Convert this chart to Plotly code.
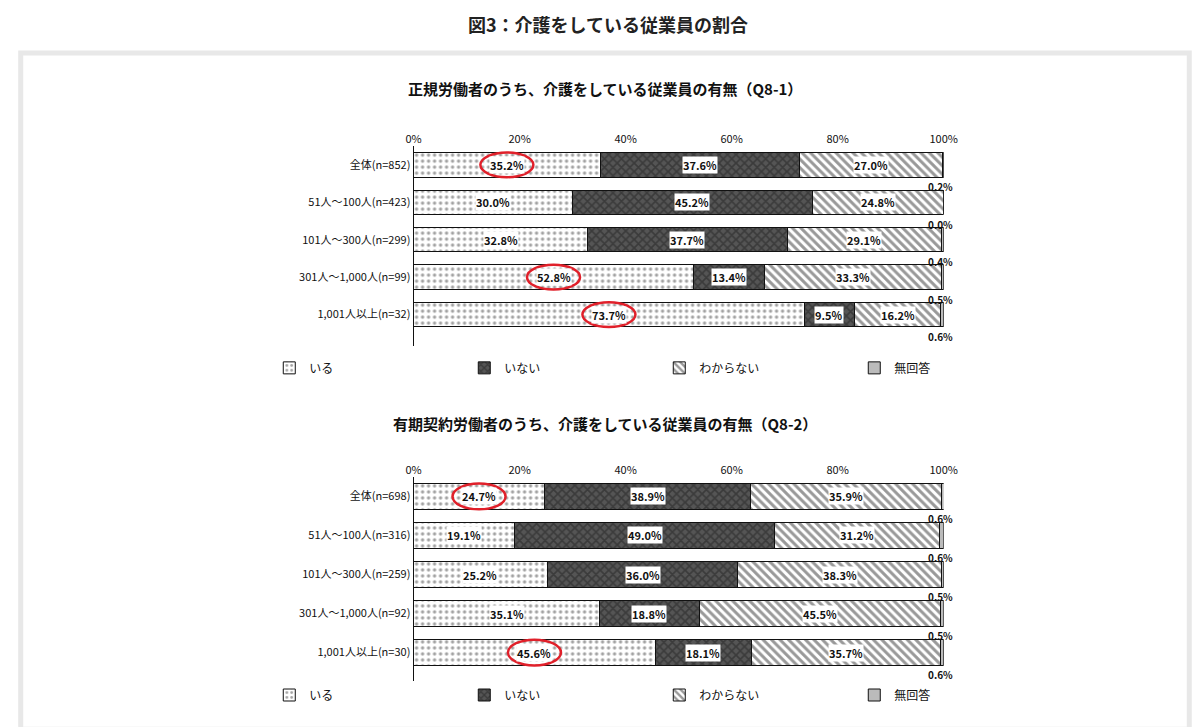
import plotly.graph_objects as go

cats = ["全体(n=852)", "51人～100人(n=423)", "101人～300人(n=299)", "301人～1,000人(n=99)", "1,001人以上(n=32)"]
cats2 = ["全体(n=698)", "51人～100人(n=316)", "101人～300人(n=259)", "301人～1,000人(n=92)", "1,001人以上(n=30)"]
names = ["いる", "いない", "わからない", "無回答"]
top = [[35.2, 30.0, 32.8, 52.8, 73.7],
       [37.6, 45.2, 37.7, 13.4, 9.5],
       [27.0, 24.8, 29.1, 33.3, 16.2],
       [0.2, 0.0, 0.4, 0.5, 0.6]]
bot = [[24.7, 19.1, 25.2, 35.1, 45.6],
       [38.9, 49.0, 36.0, 18.8, 18.1],
       [35.9, 31.2, 38.3, 45.5, 35.7],
       [0.6, 0.6, 0.5, 0.5, 0.6]]
circled_top = [0, 3, 4]
circled_bot = [0, 4]

colors = ["white", "#555555", "white", "#bbbbbb"]
pats = [".", "x", "\\", ""]
pfg = ["#444", "#222", "#333", "#bbb"]
FONT = "Noto Sans CJK JP"

fig = go.Figure()
for ax, (data, cl, leg) in enumerate([(top, cats, "legend"), (bot, cats2, "legend2")]):
    xa = "x" if ax == 0 else "x2"
    ya = "y" if ax == 0 else "y2"
    for i, n in enumerate(names):
        fig.add_trace(go.Bar(
            y=cl, x=data[i], name=n, orientation="h", xaxis=xa, yaxis=ya, legend=leg,
            marker=dict(color=colors[i], line=dict(color="#111", width=1),
                        pattern=dict(shape=pats[i], fgcolor=pfg[i], size=6, solidity=0.25 if i == 0 else 0.5)),
            width=0.65, hoverinfo="skip"))
    for r in range(5):
        cum = 0
        for i in range(3):
            v = data[i][r]
            fig.add_annotation(x=cum + v / 2, y=cl[r], xref=xa, yref=ya, text=f"<b>{v:.1f}%</b>",
                               showarrow=False, bgcolor="white", borderpad=0,
                               font=dict(size=11, color="#111", family=FONT))
            cum += v
        fig.add_annotation(x=100, y=cl[r], xref=xa, yref=ya, text=f"<b>{data[3][r]:.1f}%</b>",
                           showarrow=False, yshift=-22, xanchor="left", xshift=-18,
                           font=dict(size=10, color="#111", family=FONT))
    for r in (circled_top if ax == 0 else circled_bot):
        c = data[0][r] / 2
        yy = 4 - r
        fig.add_shape(type="circle", xref=xa, yref=ya, x0=c - 5, x1=c + 5,
                      y0=yy - 0.33, y1=yy + 0.33, line=dict(color="#e0202a", width=2.5))

common_x = dict(range=[0, 100], side="top", tickvals=[0, 20, 40, 60, 80, 100],
                ticktext=["0%", "20%", "40%", "60%", "80%", "100%"], showgrid=False,
                ticks="", tickfont=dict(size=11, family=FONT, color="#111"), showline=False, zeroline=False)
fig.update_layout(
    width=1200, height=727, margin=dict(l=0, r=0, t=0, b=0), barmode="stack",
    plot_bgcolor="white", paper_bgcolor="white", bargap=0.3,
    font=dict(family=FONT, color="#111"),
    xaxis=dict(domain=[0.3375, 0.7875], anchor="y", **common_x),
    xaxis2=dict(domain=[0.3375, 0.7875], anchor="y2", **common_x),
    yaxis=dict(domain=[0.535, 0.81], categoryorder="array", categoryarray=cats[::-1],
               showline=True, linecolor="#111", ticks="", tickfont=dict(size=11, family=FONT, color="#111")),
    yaxis2=dict(domain=[0.07, 0.355], categoryorder="array", categoryarray=cats2[::-1],
                showline=True, linecolor="#111", ticks="", tickfont=dict(size=11, family=FONT, color="#111")),
    legend=dict(orientation="h", x=0.215, y=0.505, xanchor="left", yanchor="middle", traceorder="normal",
                entrywidth=150, entrywidthmode="pixels", font=dict(size=12, family=FONT)),
    legend2=dict(orientation="h", x=0.215, y=0.055, xanchor="left", yanchor="middle", traceorder="normal",
                 entrywidth=150, entrywidthmode="pixels", font=dict(size=12, family=FONT)),
    title=dict(text="<b>図3：介護をしている従業員の割合</b>", x=0.5, y=1 - 18 / 727, xanchor="center",
               yanchor="middle", font=dict(size=18, family=FONT, color="#222")),
)
fig.add_annotation(text="<b>正規労働者のうち、介護をしている従業員の有無（Q8-1）</b>", xref="paper", yref="paper",
                   x=0.5, y=1 - 80 / 727, yanchor="middle", showarrow=False, font=dict(size=15, family=FONT))
fig.add_annotation(text="<b>有期契約労働者のうち、介護をしている従業員の有無（Q8-2）</b>", xref="paper", yref="paper",
                   x=0.5, y=1 - 415 / 727, yanchor="middle", showarrow=False, font=dict(size=15, family=FONT))
fig.add_shape(type="rect", xref="paper", yref="paper", x0=0.004, x1=0.996, y0=0.008, y1=1 - 45 / 727,
              line=dict(color="#e8e8e8", width=5), layer="below")
fig.write_html("out.html")
